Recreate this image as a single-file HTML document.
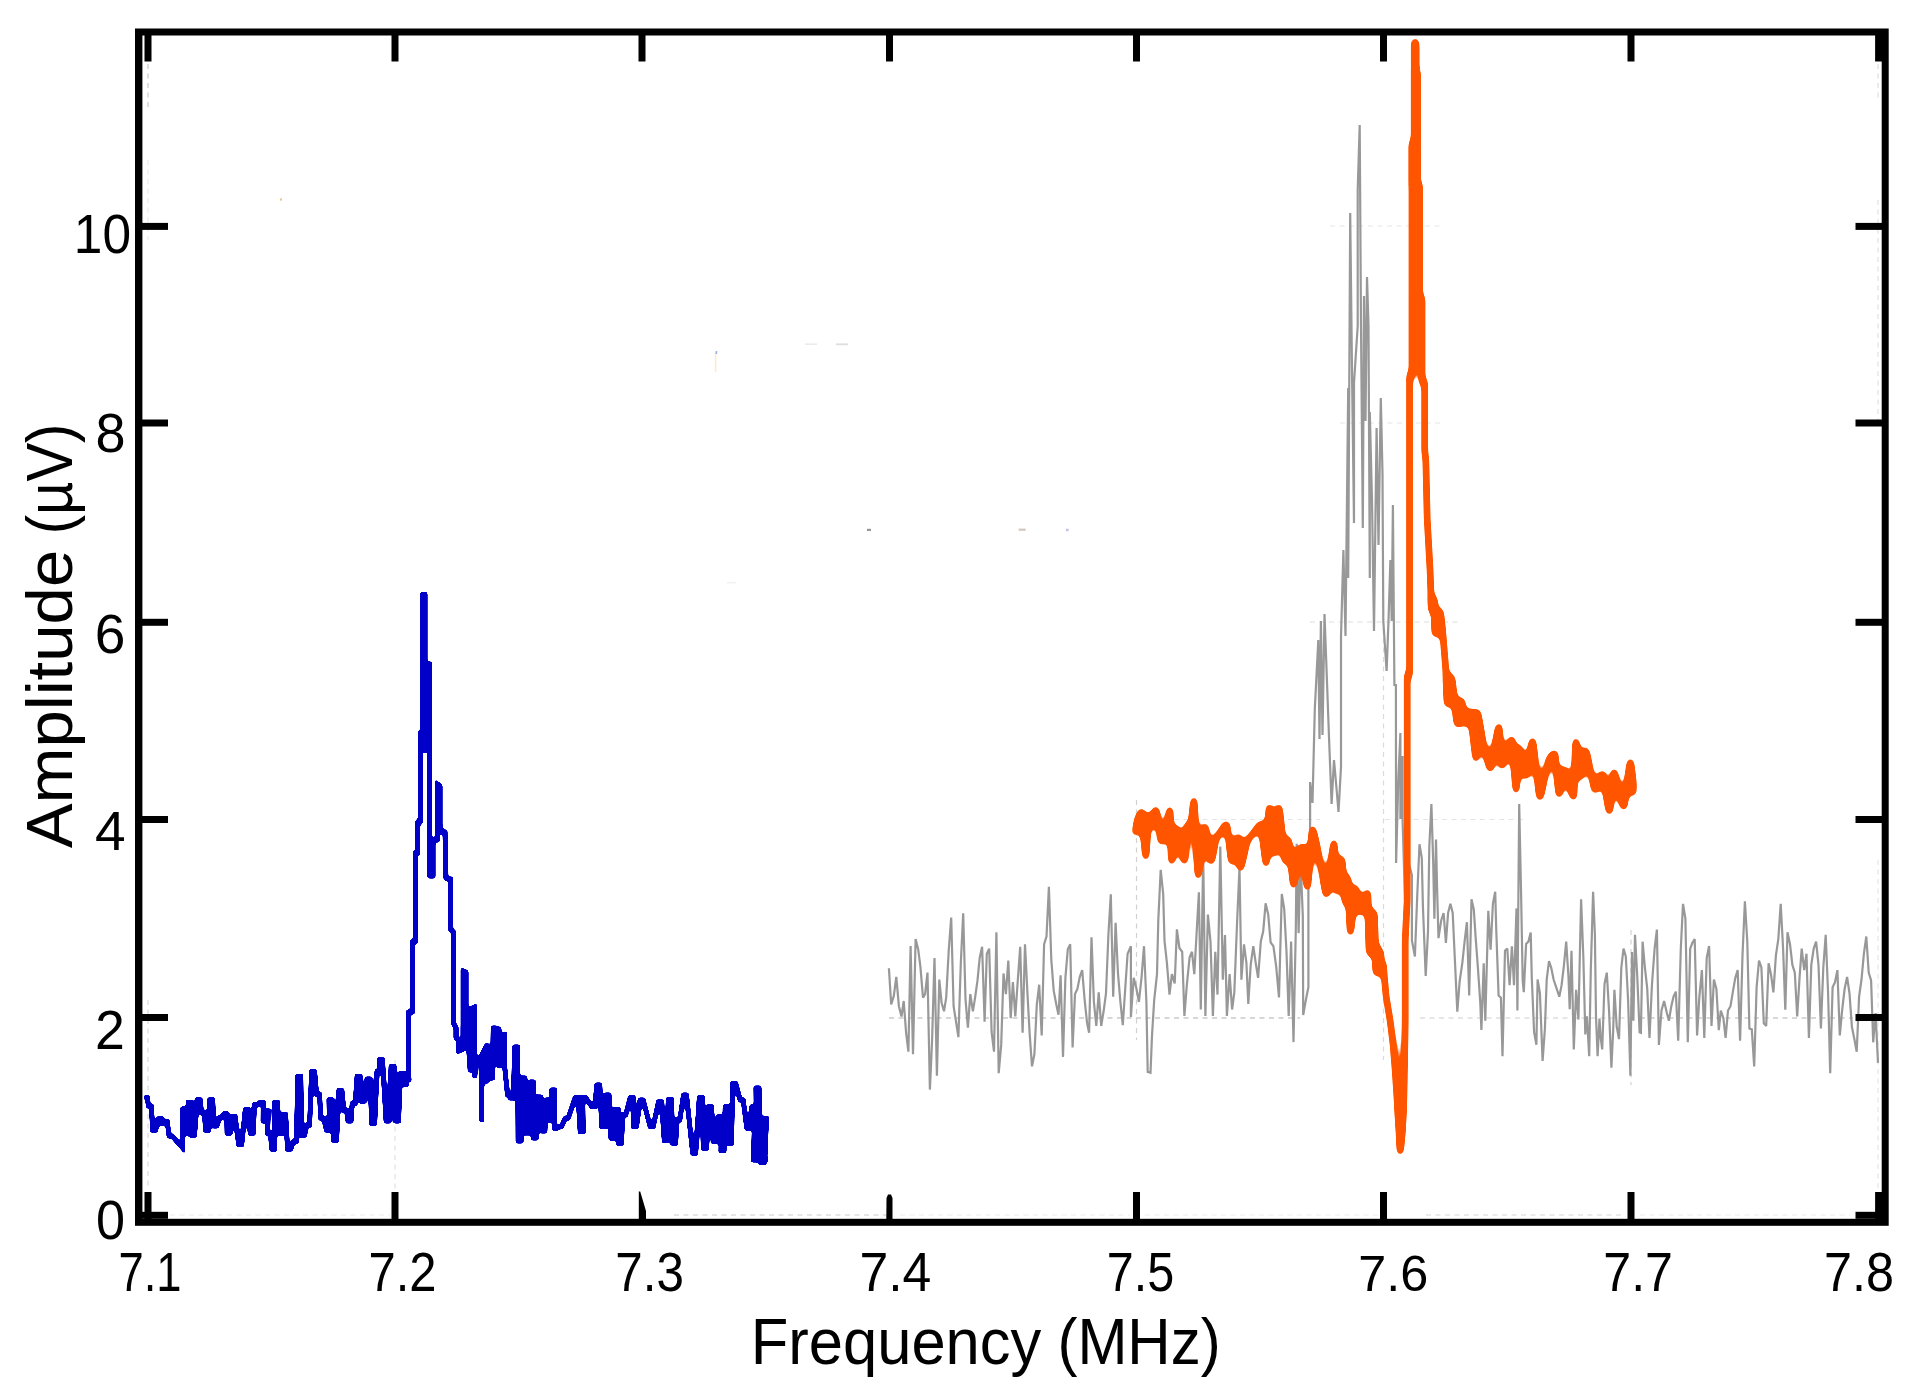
<!DOCTYPE html>
<html><head><meta charset="utf-8"><title>Amplitude vs Frequency</title>
<style>
html,body{margin:0;padding:0;background:#fff;}
svg{display:block}
text{font-family:"Liberation Sans",sans-serif;fill:#000}
</style></head><body>
<svg width="1932" height="1396" viewBox="0 0 1932 1396">
<rect width="1932" height="1396" fill="#fff"/>

<g stroke="#bdbdbd" stroke-width="1.2" stroke-dasharray="5 4.5" fill="none">
<line x1="148" y1="64" x2="148" y2="110" opacity="0.8"/>
<line x1="148" y1="160" x2="148" y2="240" opacity="0.3"/>
<line x1="148" y1="1000" x2="148" y2="1190" opacity="0.55"/>
<line x1="395" y1="1060" x2="395" y2="1190" opacity="0.45"/>
<line x1="1878" y1="64" x2="1878" y2="100" opacity="0.5"/>
<line x1="1878" y1="200" x2="1878" y2="420" opacity="0.45"/>
<line x1="1878" y1="860" x2="1878" y2="1190" opacity="0.4"/>
<line x1="674" y1="1215" x2="886" y2="1215" opacity="0.8"/>
<line x1="900" y1="1215" x2="1130" y2="1215" opacity="0.3"/>
<line x1="1145" y1="1215" x2="1378" y2="1215" opacity="0.25"/>
<line x1="1426" y1="1215" x2="1625" y2="1215" opacity="0.6"/>
<line x1="1640" y1="1215" x2="1850" y2="1215" opacity="0.3"/>
<line x1="170" y1="1215" x2="390" y2="1215" opacity="0.3"/>
<line x1="889" y1="1018" x2="1300" y2="1018" stroke="#a6a6a6" opacity="0.9"/>
<line x1="1136.5" y1="800" x2="1136.5" y2="1040" opacity="0.7"/>
<line x1="1383.5" y1="600" x2="1383.5" y2="1060" opacity="0.55"/>
<line x1="1631" y1="930" x2="1631" y2="1085" opacity="0.7"/>
<line x1="1136" y1="819.5" x2="1320" y2="819.5" opacity="0.4"/>
<line x1="1385" y1="819.5" x2="1525" y2="819.5" opacity="0.4"/>
<line x1="1310" y1="622" x2="1460" y2="622" opacity="0.5"/>
<line x1="1330" y1="226" x2="1440" y2="226" opacity="0.4"/>
<line x1="1340" y1="423" x2="1440" y2="423" opacity="0.4"/>
<line x1="1420" y1="1018" x2="1640" y2="1018" stroke="#a6a6a6" opacity="0.55"/>
<line x1="1640" y1="1018" x2="1853" y2="1018" stroke="#a6a6a6" opacity="0.85"/>
</g>
<defs>
<filter id="closeB" filterUnits="userSpaceOnUse" x="130" y="560" width="660" height="640" color-interpolation-filters="sRGB"><feGaussianBlur stdDeviation="1.3"/><feColorMatrix type="matrix" values="1 0 0 0 0  0 1 0 0 0  0 0 1 0 0  0 0 0 14 -5.0"/></filter>
<filter id="closeO" filterUnits="userSpaceOnUse" x="1120" y="20" width="540" height="1170" color-interpolation-filters="sRGB"><feGaussianBlur stdDeviation="3.0"/><feColorMatrix type="matrix" values="1 0 0 0 0  0 1 0 0 0  0 0 1 0 0  0 0 0 14 -4.6"/></filter>
</defs>
<polyline points="888.9,968.3 891.2,1004.5 893.8,995.9 896.3,976.9 898.9,1006.2 901.5,1016.5 903.7,1001.0 906.1,1032.8 908.4,1051.7 910.6,946.0 913.0,1054.3 915.6,939.1 918.2,949.4 920.4,966.6 923.0,997.6 925.1,994.1 927.5,972.6 929.9,1089.6 932.1,1039.7 934.5,958.0 936.9,1075.8 939.3,979.5 941.6,1002.7 944.0,1011.3 946.2,997.6 948.8,949.4 951.2,917.6 953.6,1006.2 956.0,1021.7 958.4,1037.1 960.8,963.2 963.2,913.3 965.5,999.3 967.9,1027.7 970.3,994.1 972.9,1011.3 975.1,997.6 977.5,980.4 979.7,958.0 982.1,946.8 984.6,1021.7 986.8,953.7 989.2,948.6 991.6,1032.0 994.0,1051.7 996.4,932.2 998.7,1073.2 1001.2,1044.9 1003.5,973.5 1005.9,994.1 1008.3,960.6 1010.7,1018.2 1012.9,982.1 1015.3,1016.5 1017.6,983.0 1020.2,946.8 1022.6,1032.8 1025.0,944.3 1027.4,992.4 1029.6,1032.8 1032.0,1066.4 1034.4,1054.3 1036.8,1004.5 1039.2,984.7 1041.7,1035.4 1044.1,944.3 1046.5,936.5 1048.9,886.7 1051.3,959.7 1053.7,990.7 1056.3,1004.5 1058.5,1014.8 1060.6,975.2 1063.0,1056.9 1065.4,977.8 1067.8,949.4 1070.2,944.3 1072.6,1047.4 1075.0,994.1 1077.4,989.0 1079.8,976.9 1082.2,970.1 1084.6,999.3 1087.1,1023.4 1089.1,1032.8 1091.5,937.4 1093.9,1001.9 1096.3,1026.0 1098.7,992.4 1101.2,1026.0 1103.6,1011.3 1106.0,993.3 1108.4,934.8 1110.8,894.4 1113.2,996.7 1115.6,922.8 1118.0,973.5 1120.4,1001.9 1122.8,1025.1 1125.2,989.0 1127.6,953.7 1130.9,946.2 1130.9,1016.9 1133.7,977.8 1136.5,989.0 1138.9,1002.0 1141.5,977.8 1144.0,946.2 1146.4,1002.0 1147.7,1071.9 1150.5,1072.8 1152.0,1035.6 1154.2,1000.2 1157.0,974.1 1158.3,920.1 1160.7,869.8 1163.2,894.0 1164.5,940.6 1166.9,962.9 1169.5,994.6 1171.9,974.1 1174.7,983.4 1176.9,929.4 1179.4,948.0 1182.2,951.8 1184.4,1016.0 1186.8,985.3 1189.6,957.3 1192.0,951.8 1194.3,974.1 1196.7,931.3 1198.9,892.2 1200.8,1009.5 1203.2,855.8 1205.4,1016.0 1207.9,914.5 1210.5,941.5 1212.9,1016.0 1215.3,951.8 1217.5,994.6 1220.3,846.5 1222.8,979.7 1225.0,935.0 1226.9,1016.0 1229.6,974.1 1232.1,1009.5 1234.3,992.7 1237.1,922.0 1239.5,867.9 1241.4,979.7 1244.0,944.3 1246.4,962.9 1248.3,1003.9 1250.7,964.8 1253.3,946.2 1255.7,962.9 1258.1,977.8 1260.8,941.5 1263.2,931.3 1265.6,903.3 1268.2,914.5 1270.6,942.4 1273.4,946.2 1276.2,966.7 1279.0,997.4 1281.8,894.0 1284.2,908.9 1286.5,951.8 1288.7,1016.0 1291.1,941.5 1293.5,1042.1 1295.8,929.4 1296.7,843.7 1298.6,933.1 1300.4,858.6 1302.8,915.4 1303.2,1015.1 1306.0,999.2 1308.4,987.1 1308.4,886.6 1310.1,827.0 1310.1,782.0 1312.5,803.0 1314.8,709.0 1318.3,640.0 1319.5,739.0 1320.9,621.0 1322.5,735.0 1324.5,614.0 1326.2,660.0 1329.0,737.0 1331.6,804.0 1334.0,760.0 1336.3,786.0 1338.5,812.0 1341.0,767.0 1341.0,637.0 1343.4,550.0 1345.5,636.0 1348.2,388.0 1348.2,578.0 1350.2,213.0 1352.0,371.0 1354.0,523.0 1354.0,383.0 1357.7,326.0 1357.7,190.0 1359.7,125.0 1361.0,326.0 1362.8,528.0 1364.0,296.0 1365.5,421.0 1367.0,277.0 1368.5,326.0 1369.8,578.0 1369.8,412.0 1372.0,500.0 1374.0,631.0 1376.6,428.0 1378.5,545.0 1380.8,398.0 1382.5,473.0 1383.3,621.0 1386.6,671.0 1388.5,621.0 1390.4,560.0 1391.7,621.0 1392.9,505.0 1394.4,685.0 1395.9,685.0 1396.1,863.0 1398.3,780.0 1400.4,733.0 1400.4,819.0 1402.6,756.0 1402.6,821.0 1405.0,900.0 1408.0,860.0 1411.9,875.2 1411.9,940.5 1414.9,956.5 1417.2,896.9 1419.5,844.2 1421.8,858.0 1422.9,906.1 1425.7,976.0 1428.0,931.3 1429.3,846.5 1431.4,804.1 1433.2,862.5 1434.4,918.7 1436.0,839.6 1437.1,888.9 1438.5,938.2 1441.3,919.9 1443.6,913.0 1445.9,942.8 1448.1,913.0 1450.4,903.8 1452.7,913.0 1455.0,962.3 1457.3,1011.6 1459.6,981.8 1462.4,962.3 1464.7,940.5 1466.9,922.2 1469.2,995.5 1471.5,899.2 1473.8,909.5 1475.7,938.2 1478.0,969.2 1480.2,1001.3 1481.4,1029.9 1483.7,963.4 1485.3,1020.7 1488.3,910.7 1490.6,949.7 1492.9,903.8 1495.2,891.7 1496.3,931.3 1498.6,995.5 1500.9,997.8 1502.5,1056.3 1505.0,950.8 1507.3,948.5 1509.6,985.2 1511.9,946.2 1514.0,985.2 1516.5,908.4 1517.4,1010.4 1519.2,804.1 1521.1,894.6 1522.7,980.6 1523.8,992.1 1526.1,943.9 1528.4,941.6 1530.7,932.5 1531.8,978.3 1534.1,1032.2 1536.4,1044.8 1537.6,979.5 1539.9,993.2 1542.6,1060.9 1544.9,1028.8 1546.7,979.5 1549.0,961.1 1551.3,968.0 1553.6,979.5 1555.9,986.4 1559.3,996.7 1561.6,985.2 1563.9,965.7 1566.2,941.6 1568.5,977.2 1569.7,1009.3 1571.5,950.8 1573.8,1049.4 1576.1,989.8 1578.4,1019.6 1581.1,899.2 1583.4,958.8 1585.3,1034.5 1586.9,1016.2 1589.2,1056.3 1590.8,970.3 1593.1,891.7 1594.9,934.8 1596.0,1016.2 1597.6,1056.3 1599.5,1018.5 1600.6,1036.8 1602.2,1049.4 1604.5,984.1 1606.8,972.6 1609.1,1011.6 1611.4,1067.7 1613.2,1029.9 1614.4,989.8 1616.7,1026.5 1619.0,1039.1 1621.3,968.0 1623.5,948.5 1625.8,956.5 1628.1,1000.1 1630.4,1075.8 1632.0,952.0 1633.4,1020.7 1635.0,934.8 1637.3,977.2 1639.6,1032.2 1640.9,1032.8 1642.6,941.7 1644.8,966.6 1647.2,988.1 1649.5,1038.0 1652.0,983.8 1654.6,948.6 1656.9,929.6 1658.9,1044.9 1661.5,1010.5 1664.1,1001.0 1666.7,1012.2 1668.9,1020.8 1671.3,1006.2 1673.5,996.7 1675.8,991.6 1678.2,1040.6 1680.8,948.6 1683.0,903.9 1685.4,918.5 1687.8,1042.3 1690.2,948.6 1692.5,942.5 1694.7,939.1 1697.1,1035.4 1699.3,997.6 1701.9,970.1 1704.3,1038.0 1706.7,958.0 1709.1,946.0 1711.5,1026.0 1713.9,979.5 1716.4,989.0 1718.8,1030.2 1720.8,1010.5 1723.4,1018.2 1725.6,1038.0 1728.0,1010.5 1730.5,1006.2 1732.9,991.6 1735.3,977.8 1737.7,970.1 1740.1,1040.6 1742.5,955.4 1744.9,901.3 1747.3,941.7 1749.4,1028.5 1751.8,1029.4 1754.2,1066.4 1756.6,987.3 1759.0,960.6 1761.4,967.5 1763.8,1023.4 1766.2,1026.0 1768.6,963.2 1771.0,974.4 1773.4,992.4 1775.9,955.4 1778.3,939.1 1780.7,903.9 1783.1,948.6 1785.3,1009.6 1787.5,932.2 1790.0,944.3 1792.4,964.9 1794.8,972.6 1797.2,1016.5 1799.6,976.9 1801.7,948.6 1804.2,970.1 1806.5,953.7 1808.9,1038.0 1811.3,964.9 1813.7,948.6 1816.1,941.7 1818.5,964.9 1820.9,1028.5 1823.3,967.5 1825.7,934.8 1828.1,993.3 1830.2,1073.2 1832.6,987.3 1835.0,982.1 1837.4,970.1 1839.8,1035.4 1842.2,1009.6 1844.6,989.0 1847.1,976.9 1849.5,993.3 1851.9,1026.8 1854.3,1038.8 1856.7,1051.7 1859.1,996.7 1861.5,979.5 1863.9,953.7 1866.3,936.5 1868.7,972.6 1871.1,980.4 1873.2,1042.3 1875.6,1013.1 1878.0,1062.9" fill="none" stroke="#989898" stroke-width="2.2" stroke-linejoin="miter" stroke-miterlimit="2"/>
<polyline points="144.3,1097.3 147.3,1097.3 148.4,1105.9 151.4,1105.9 152.6,1130.2 155.6,1130.2 158.4,1118.8 161.4,1118.8 160.9,1123.6 163.9,1123.6 164.2,1121.3 167.2,1121.3 169.1,1136.0 172.1,1136.0 182.7,1148.0 182.7,1106.7 184.9,1133.5 187.9,1133.5 188.2,1102.2 191.2,1102.2 191.5,1135.2 194.5,1135.2 197.3,1099.8 200.3,1099.8 201.4,1112.5 204.4,1112.5 205.6,1130.2 208.6,1130.2 209.7,1099.8 212.7,1099.8 213.9,1126.1 216.9,1126.1 219.7,1117.5 222.7,1117.5 223.8,1113.8 226.8,1113.8 227.1,1133.2 230.1,1133.2 232.1,1116.3 235.1,1116.3 238.7,1144.8 241.7,1144.8 245.3,1109.4 248.3,1109.4 250.3,1133.2 253.3,1133.2 254.4,1104.7 257.4,1104.7 260.2,1102.2 263.2,1102.2 263.1,1121.1 266.1,1121.1 265.2,1110.8 268.2,1110.8 267.4,1133.2 270.4,1133.2 271.8,1149.3 274.8,1149.3 274.6,1102.2 277.6,1102.2 278.5,1133.5 281.5,1133.5 282.6,1114.3 285.6,1114.3 287.6,1149.3 290.6,1149.3 293.4,1141.8 296.4,1141.8 297.8,1076.2 300.8,1076.2 301.6,1135.2 304.6,1135.2 306.6,1125.3 309.6,1125.3 311.6,1071.6 314.6,1071.6 316.6,1094.3 319.6,1094.3 320.7,1118.3 323.7,1118.3 326.5,1130.2 329.5,1130.2 329.0,1099.8 332.0,1099.8 333.6,1140.2 336.6,1140.2 338.9,1090.6 341.9,1090.6 343.9,1110.8 346.9,1110.8 348.0,1121.1 351.0,1121.1 352.2,1103.4 355.2,1103.4 357.1,1076.2 360.1,1076.2 361.3,1101.2 364.3,1101.2 367.1,1079.0 370.1,1079.0 371.7,1123.6 374.7,1123.6 377.0,1071.6 380.0,1071.6 379.5,1059.7 382.5,1059.7 386.1,1121.1 389.1,1121.1 391.1,1066.6 394.1,1066.6 395.6,1121.1 398.6,1121.1 400.2,1073.7 403.2,1073.7 403.2,1084.7 406.2,1084.7 406.0,1079.4 409.0,1079.4 408.6,1075.0 408.6,1012.0 412.4,1012.0 412.4,942.0 415.2,942.0 415.2,853.0 417.8,853.0 417.8,822.0 420.2,822.0 420.2,733.0 422.5,733.0 422.5,594.5 425.0,594.5 425.0,750.0 427.2,750.0 427.2,664.0 429.8,664.0 429.8,876.0 433.0,876.0 433.0,840.0 437.3,840.0 437.3,784.0 440.0,786.0 440.0,826.0 442.0,832.0 445.0,832.0 446.0,880.0 446.0,879.0 450.8,879.0 450.8,930.0 453.6,932.0 453.6,1024.0 456.0,1027.0 456.0,1038.0 458.8,1040.0 458.8,1051.0 463.1,1049.0 463.1,971.0 466.0,972.0 466.0,1009.0 470.3,1072.0 470.3,1009.0 474.6,1007.0 474.6,1078.0 476.0,1058.0 479.0,1058.0 481.8,1058.0 481.8,1122.0 481.8,1055.0 487.5,1044.0 487.5,1080.0 489.5,1078.0 492.5,1078.0 493.2,1028.0 496.2,1028.0 499.0,1029.0 499.0,1068.0 504.7,1032.0 504.7,1067.0 507.5,1095.0 510.5,1095.0 510.4,1098.0 513.4,1098.0 514.7,1047.0 517.7,1047.0 518.1,1141.0 521.1,1141.0 521.8,1078.0 524.8,1078.0 526.1,1133.0 529.1,1133.0 530.4,1082.0 533.4,1082.0 533.3,1138.0 536.3,1138.0 537.6,1097.0 540.6,1097.0 541.9,1131.0 544.9,1131.0 546.2,1100.0 549.2,1100.0 550.0,1120.0 553.0,1120.0 551.8,1090.0 554.8,1090.0 554.3,1128.3 557.3,1128.3 558.5,1126.7 561.5,1126.7 565.2,1118.3 568.2,1118.3 575.2,1097.5 578.2,1097.5 580.2,1131.7 583.2,1131.7 582.7,1097.5 585.7,1097.5 591.8,1106.7 594.8,1106.7 596.8,1085.0 599.8,1085.0 601.8,1126.7 604.8,1126.7 606.0,1095.0 609.0,1095.0 611.0,1138.3 614.0,1138.3 615.2,1109.2 618.2,1109.2 618.5,1143.3 621.5,1143.3 622.7,1115.0 625.7,1115.0 630.2,1097.5 633.2,1097.5 633.5,1126.7 636.5,1126.7 640.2,1100.0 643.2,1100.0 650.2,1126.7 653.2,1126.7 658.5,1101.7 661.5,1101.7 664.3,1140.8 667.3,1140.8 668.5,1099.2 671.5,1099.2 672.7,1143.3 675.7,1143.3 676.8,1120.0 679.8,1120.0 683.5,1095.0 686.5,1095.0 692.7,1153.3 695.7,1153.3 699.3,1097.5 702.3,1097.5 703.5,1148.3 706.5,1148.3 708.5,1106.7 711.5,1106.7 713.5,1141.7 716.5,1141.7 718.5,1116.7 721.5,1116.7 721.0,1150.8 724.0,1150.8 725.2,1106.7 728.2,1106.7 728.5,1143.3 731.5,1143.3 732.7,1083.3 735.7,1083.3 740.2,1100.0 743.2,1100.0 746.8,1128.3 749.8,1128.3 751.8,1106.7 754.8,1106.7 753.5,1160.0 756.5,1160.0 756.0,1088.0 759.0,1088.0 761.0,1162.5 764.0,1162.5 763.5,1118.3 766.5,1118.3 764.8,1160.0 767.8,1160.0" fill="none" stroke="#0000c8" stroke-width="4.5" stroke-linejoin="miter" stroke-miterlimit="3" filter="url(#closeB)"/>
<polyline points="1134.6,835.6 1137.2,820.2 1141.5,810.6 1145.8,858.1 1148.4,815.8 1151.8,824.9 1155.8,808.4 1161.3,842.6 1165.6,835.6 1169.9,808.4 1171.6,862.7 1176.7,827.8 1184.5,862.4 1187.0,825.2 1190.5,831.8 1193.9,799.1 1198.2,877.0 1205.1,825.2 1211.1,862.7 1216.3,837.4 1226.6,823.2 1231.7,862.7 1238.6,835.6 1240.3,869.6 1247.2,840.8 1261.0,823.2 1266.1,864.9 1269.2,806.0 1274.7,854.6 1279.0,806.0 1285.0,861.5 1288.5,839.0 1293.6,886.4 1298.8,849.4 1302.2,845.9 1307.4,888.7 1312.5,827.8 1317.7,849.4 1326.3,895.9 1334.0,841.6 1336.6,892.4 1341.8,857.9 1345.2,902.8 1347.8,877.3 1350.4,933.7 1355.5,887.1 1360.7,912.6 1367.6,891.4 1369.3,952.6 1374.1,911.7 1376.1,974.1 1381.3,953.7 1370.1,937.1 1370.1,954.1 1377.1,947.1 1377.1,972.2 1383.1,963.2 1386.1,996.3 1390.1,1020.3 1393.1,1044.4 1395.2,1070.5 1397.2,1100.6 1399.2,1130.6 1400.2,1153.1 1402.2,1130.6 1403.8,1100.6 1404.6,1060.4 1405.2,1020.3 1405.2,980.2 1405.2,940.1 1407.2,900.0 1407.2,800.0 1407.2,675.0 1409.6,675.0 1409.6,375.0 1412.0,375.0 1412.0,143.0 1414.4,143.0 1414.4,41.0 1415.9,41.0 1415.9,72.0 1417.3,72.0 1417.3,185.0 1419.6,185.0 1419.6,298.0 1422.0,298.0 1422.0,382.0 1424.7,382.0 1424.7,452.0 1425.8,458.7 1427.2,518.9 1430.1,570.5 1431.5,610.8 1434.4,599.0 1435.0,635.2 1440.1,610.5 1443.0,635.0 1445.9,670.9 1447.3,705.4 1451.6,676.5 1457.3,725.5 1461.6,699.4 1464.5,724.0 1470.3,710.9 1476.0,759.9 1477.4,710.9 1483.2,744.0 1490.3,769.9 1498.9,725.2 1501.8,767.1 1511.8,738.1 1516.1,791.4 1519.0,746.7 1526.2,777.1 1532.5,739.5 1539.9,798.6 1549.1,758.3 1554.8,752.4 1559.1,795.7 1564.2,768.4 1573.6,798.3 1575.9,740.0 1581.0,777.5 1585.7,749.3 1595.0,791.3 1602.4,772.6 1609.4,812.7 1614.1,770.7 1618.2,788.5 1623.8,808.0 1630.4,760.5 1633.3,783.8 1633.3,795.7" fill="none" stroke="#ff5500" stroke-width="5.0" stroke-linejoin="round" filter="url(#closeO)"/>
<rect x="138.5" y="32.0" width="1746.7" height="1190.3" fill="none" stroke="#000" stroke-width="7"/>
<rect x="141.5" y="35" width="0.9" height="1184" fill="#000"/>
<g opacity="0.55">
<rect x="714.8" y="352" width="1.6" height="20" fill="#ffd9a0"/>
<rect x="715.6" y="351" width="1.6" height="3" fill="#4a78d0"/>
<rect x="805" y="343.4" width="12" height="1.6" fill="#dcdcdc"/>
<rect x="836" y="343.4" width="12" height="1.8" fill="#c4c4c4"/>
<rect x="867" y="528.8" width="4" height="2.2" fill="#444"/>
<rect x="1018.7" y="528.6" width="7" height="2.2" fill="#b09a88"/>
<rect x="1066" y="528.8" width="2.6" height="2.4" fill="#8a8ad8"/>
<rect x="726.7" y="582" width="9" height="1.4" fill="#e4e4e4"/>
<rect x="280" y="198.4" width="2" height="2.2" fill="#e8902c"/>
</g>
<g stroke="#000" stroke-width="7" fill="none">
<line x1="148" y1="32.0" x2="148" y2="61.5"/>
<line x1="148" y1="1222.3" x2="148" y2="1192"/>
<line x1="395" y1="32.0" x2="395" y2="61.5"/>
<line x1="395" y1="1222.3" x2="395" y2="1192"/>
<line x1="642" y1="32.0" x2="642" y2="61.5"/>
<path d="M638.8,1220 L638.8,1191.5 L640.2,1191.5 L646,1211 L646,1220 Z" fill="#000" stroke="none"/>
<line x1="889.5" y1="32.0" x2="889.5" y2="61.5"/>
<path d="M886.3,1220 L886.5,1198 L888,1194.5 L891,1194.5 L892.5,1198 L892.5,1220 Z" fill="#000" stroke="none"/>
<line x1="1136.5" y1="32.0" x2="1136.5" y2="61.5"/>
<line x1="1136.5" y1="1222.3" x2="1136.5" y2="1192"/>
<line x1="1383.5" y1="32.0" x2="1383.5" y2="61.5"/>
<line x1="1383.5" y1="1222.3" x2="1383.5" y2="1192"/>
<line x1="1631" y1="32.0" x2="1631" y2="61.5"/>
<line x1="1631" y1="1222.3" x2="1631" y2="1192"/>
<line x1="1878.6" y1="32.0" x2="1878.6" y2="61.5"/>
<line x1="1878.6" y1="1222.3" x2="1878.6" y2="1192"/>
<line x1="138.5" y1="1215.3" x2="168" y2="1215.3"/>
<line x1="1885.2" y1="1215.3" x2="1855.5" y2="1215.3"/>
<line x1="138.5" y1="1017.5" x2="168" y2="1017.5"/>
<line x1="1885.2" y1="1017.5" x2="1855.5" y2="1017.5"/>
<line x1="138.5" y1="819.5" x2="168" y2="819.5"/>
<line x1="1885.2" y1="819.5" x2="1855.5" y2="819.5"/>
<line x1="138.5" y1="622.3" x2="168" y2="622.3"/>
<line x1="1885.2" y1="622.3" x2="1855.5" y2="622.3"/>
<line x1="138.5" y1="423" x2="168" y2="423"/>
<line x1="1885.2" y1="423" x2="1855.5" y2="423"/>
<line x1="138.5" y1="226.4" x2="168" y2="226.4"/>
<line x1="1885.2" y1="226.4" x2="1855.5" y2="226.4"/>
</g>
<text transform="translate(118.43,1291.00) scale(0.8215,1.0000)" font-size="55.3">7.1</text>
<text transform="translate(368.45,1291.00) scale(0.8859,1.0000)" font-size="55.3">7.2</text>
<text transform="translate(615.23,1291.00) scale(0.8925,1.0000)" font-size="55.3">7.3</text>
<text transform="translate(859.41,1291.00) scale(0.9359,1.0000)" font-size="55.3">7.4</text>
<text transform="translate(1106.87,1291.00) scale(0.8772,1.0000)" font-size="55.3">7.5</text>
<text transform="translate(1358.28,1291.00) scale(0.9107,0.8950)" font-size="55.3">7.6</text>
<text transform="translate(1603.29,1291.00) scale(0.9070,1.0000)" font-size="55.3">7.7</text>
<text transform="translate(1823.98,1291.00) scale(0.9107,1.0000)" font-size="55.3">7.8</text>
<text transform="translate(96.11,1239.30) scale(0.9446,1.0000)" font-size="55.3">0</text>
<text transform="translate(94.92,1049.00) scale(0.9702,1.0000)" font-size="55.3">2</text>
<text transform="translate(95.12,849.50) scale(0.9952,1.0000)" font-size="55.3">4</text>
<text transform="translate(94.85,653.00) scale(0.9952,1.0000)" font-size="55.3">6</text>
<text transform="translate(95.46,451.80) scale(0.9773,1.0000)" font-size="55.3">8</text>
<text transform="translate(73.86,252.80) scale(0.9299,1.0000)" font-size="55.3">10</text>
<text transform="translate(750.78,1363.90) scale(0.9431,1.0000)" font-size="65.2">Frequency</text>
<text transform="translate(1057.40,1363.90) scale(0.9202,1.0000)" font-size="65.2">(MHz)</text>
<text transform="translate(72.10,848.22) rotate(-90) scale(1.0297,1.0000)" font-size="65.2">Amplitude</text>
<text transform="translate(72.10,534.17) rotate(-90) scale(0.8884,1.0000)" font-size="65.2">(µV)</text>
</svg></body></html>
